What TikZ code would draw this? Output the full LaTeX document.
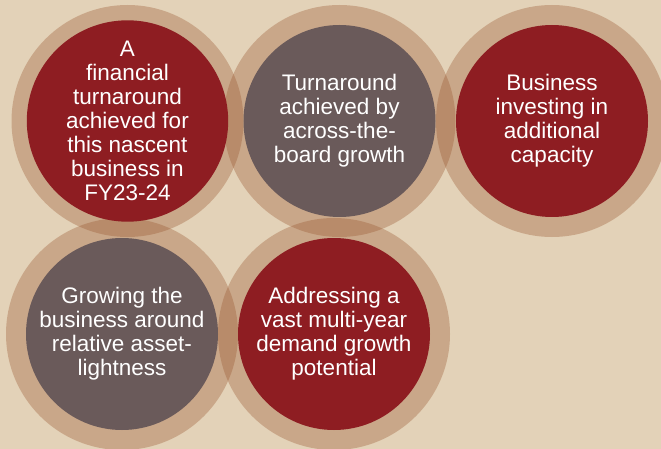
\documentclass[tikz,border=0pt]{standalone}
\usepackage{fontspec}
\setmainfont{Liberation Sans}
\definecolor{bgtan}{HTML}{E3D2B8}
\definecolor{ringbrown}{HTML}{9B5933}
\definecolor{deepred}{HTML}{8E1D22}
\definecolor{taupe}{HTML}{6A5A5A}
\tikzset{
  ring/.style={fill=ringbrown, fill opacity=0.35, draw=none},
  disc/.style={circle, minimum size=192pt, inner sep=0pt, draw=none, text=white,
    align=center, font=\fontsize{22.5}{24}\selectfont},
  reddisc/.style={disc, fill=deepred},
  greydisc/.style={disc, fill=taupe},
}
\begin{document}
\begin{tikzpicture}[x=1pt,y=-1pt]
\useasboundingbox (0,0) rectangle (661,449);
\clip (0,0) rectangle (661,449);
\fill[bgtan] (0,0) rectangle (661,449);
% rings
\coordinate (c1) at (127.5,121);
\coordinate (c2) at (339.5,121);
\coordinate (c3) at (552,121);
\coordinate (c4) at (122,334);
\coordinate (c5) at (334,334);
\foreach \c in {c1,c2,c3,c4,c5}{
  \fill[ring] (\c) circle[radius=116];
}
% discs
\node[reddisc] (n1) at (c1) {A\\financial\\turnaround\\achieved for\\this nascent\\business in\\FY23-24};
\node[greydisc] (n2) at (c2) {Turnaround\\achieved by\\across-the-\\board growth};
\node[reddisc] (n3) at (c3) {Business\\investing in\\additional\\capacity};
\node[greydisc] (n4) at (c4) {Growing the\\business around\\relative asset-\\lightness};
\node[reddisc] (n5) at (c5) {Addressing a\\vast multi-year\\demand growth\\potential};
\end{tikzpicture}
\end{document}
